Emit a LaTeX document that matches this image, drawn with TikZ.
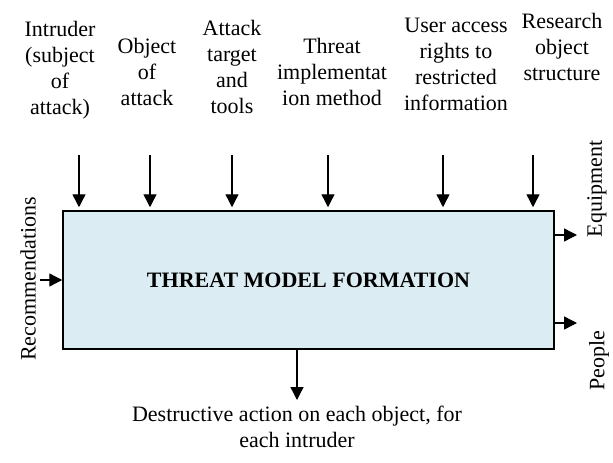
\documentclass[tikz,border=0pt]{standalone}
\usepackage{fontspec}
\setmainfont{Liberation Serif}
\usetikzlibrary{arrows.meta}
\definecolor{boxfill}{RGB}{219,237,243}
\begin{document}
\begin{tikzpicture}[x=1pt,y=-1pt,
  lbl/.style={font=\fontsize{22}{26}\selectfont, align=center, inner sep=0pt},
  flow/.style={line width=1.4pt, -{Triangle[width=13pt,length=13pt]}},
  mainbox/.style={draw, line width=1.5pt, fill=boxfill, inner sep=0pt,
    minimum width=491pt, minimum height=138pt,
    font=\fontsize{22}{26}\selectfont\bfseries}
]
\useasboundingbox (0,0) rectangle (613,463);

% central function block
\node[mainbox] (main) at (308.5,280) {THREAT MODEL FORMATION};

% input labels along the top
\node[lbl, anchor=north] (intruder) at (60,21)  {Intruder\\(subject\\of\\attack)};
\node[lbl, anchor=north] (object)   at (147,38) {Object\\of\\attack};
\node[lbl, anchor=north] (target)   at (232,20) {Attack\\target\\and\\tools};
\node[lbl, anchor=north] (method)   at (332,38) {Threat\\implementat\\ion method};
\node[lbl, anchor=north] (rights)   at (456,18) {User access\\rights to\\restricted\\information};
\node[lbl, anchor=north] (struct)   at (562,13) {Research\\object\\structure};

% control arrows into the top edge
\coordinate (t1) at (79,155);
\coordinate (t2) at (150,155);
\coordinate (t3) at (232,155);
\coordinate (t4) at (328,155);
\coordinate (t5) at (443,155);
\coordinate (t6) at (533,155);
\foreach \c in {t1,t2,t3,t4,t5,t6}
  \draw[flow, shorten >=3pt] (\c) -- (\c |- main.north);

% input on the left
\coordinate (recStart) at (40,280);
\draw[flow] (recStart) -- (main.west);
\node[lbl, rotate=90] (rec) at (28,279) {Recommendations};

% mechanisms on the right
\coordinate (equipTip) at (577,235);
\coordinate (peopleTip) at (577,323);
\draw[flow] (main.east |- equipTip) -- (equipTip);
\draw[flow] (main.east |- peopleTip) -- (peopleTip);
\node[lbl, rotate=90] (equip)  at (597,189) {Equipment};
\node[lbl, rotate=90] (people) at (599,361) {People};

% output at the bottom
\coordinate (outTip) at (297,400);
\draw[flow] (main.south -| outTip) -- (outTip);
\node[lbl, anchor=north] (result) at (297,406) {Destructive action on each object, for\\each intruder};
\end{tikzpicture}
\end{document}
